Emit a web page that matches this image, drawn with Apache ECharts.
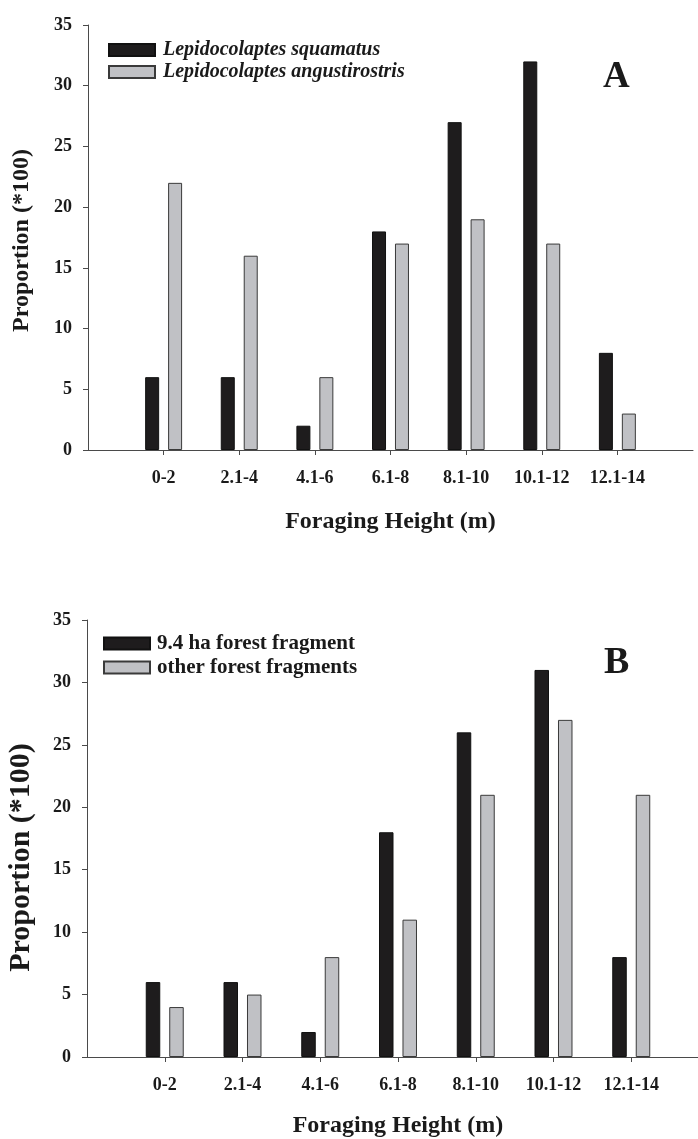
<!DOCTYPE html>
<html><head><meta charset="utf-8">
<script src="https://cdn.jsdelivr.net/npm/echarts@6/dist/echarts.min.js"></script>
<style>html,body{margin:0;padding:0;background:#fff}#c{width:698px;height:1139px}</style>
</head><body><div id="c"></div>
<script>
// ---- data ----
const categories = ['0-2', '2.1-4', '4.1-6', '6.1-8', '8.1-10', '10.1-12', '12.1-14'];
const yTickValues = [0, 5, 10, 15, 20, 25, 30, 35];
const namesA = ['Lepidocolaptes squamatus', 'Lepidocolaptes angustirostris'];
const squamatus = [6, 6, 2, 18, 27, 32, 8];
const angustirostris = [22, 16, 6, 17, 19, 17, 3];
const namesB = ['9.4 ha forest fragment', 'other forest fragments'];
const fragment94 = [6, 6, 2, 18, 26, 31, 8];
const otherFragments = [4, 5, 8, 11, 21, 27, 21];
const xTitle = 'Foraging Height (m)';
const yTitle = 'Proportion (*100)';

// ---- helpers ----
const FONT = '"Liberation Serif", "Times New Roman", serif';
const INK = '#1a1a1a';
const pad = arr => ['-', ...arr, '-'];
const axisCats = ['', ...categories, ''];
const showInner = i => i > 0 && i < axisCats.length - 1;

function xAxis(gridIndex, nameGap) {
  return {
    type: 'category', gridIndex, data: axisCats, boundaryGap: false,
    axisLine: { lineStyle: { color: '#4a4a4a', width: 1 } },
    axisTick: { interval: showInner, length: 5, inside: false, lineStyle: { color: '#4a4a4a' } },
    axisLabel: { interval: 0, margin: 19, fontFamily: FONT, fontWeight: 'bold', fontSize: 18, color: INK },
    name: xTitle, nameLocation: 'middle', nameGap,
    nameTextStyle: { fontFamily: FONT, fontWeight: 'bold', fontSize: 24, color: INK },
    splitLine: { show: false }
  };
}
function yAxis(gridIndex, nameGap, nameSize, namePad) {
  return {
    type: 'value', gridIndex, min: yTickValues[0], max: yTickValues[yTickValues.length - 1],
    interval: yTickValues[1] - yTickValues[0],
    axisLine: { show: true, lineStyle: { color: '#4a4a4a', width: 1 } },
    axisTick: { show: true, length: 5, lineStyle: { color: '#4a4a4a' } },
    axisLabel: { margin: 16, fontFamily: FONT, fontWeight: 'bold', fontSize: 18, color: INK },
    splitLine: { show: false },
    name: yTitle, nameLocation: 'middle', nameRotate: 90, nameGap,
    nameTextStyle: { fontFamily: FONT, fontWeight: 'bold', fontSize: nameSize, color: INK, padding: namePad }
  };
}
const blackStyle = { color: '#1e1c1d', borderColor: '#111', borderWidth: 1 };
const grayStyle = { color: '#c0c1c5', borderColor: '#3a3a3a', borderWidth: 1 };

function legend(names, top, left, italic, size, gap, textPad) {
  return {
    data: names, orient: 'vertical', left, top, icon: 'rect',
    itemWidth: 46, itemHeight: 12, itemGap: gap, selectedMode: false,
    textStyle: { fontFamily: FONT, fontWeight: 'bold', fontStyle: italic ? 'italic' : 'normal',
      fontSize: size, color: INK, padding: [0, 0, 0, textPad] }
  };
}

const option = {
  animation: false,
  backgroundColor: '#fff',
  grid: [
    { left: 88, right: 5, top: 25, height: 425, containLabel: false, outerBoundsMode: 'none' },
    { left: 87, right: -11, top: 620, height: 437, containLabel: false, outerBoundsMode: 'none' }
  ],
  xAxis: [xAxis(0, 60), xAxis(1, 57)],
  yAxis: [yAxis(0, 54, 24, [0, 6, 0, 0]), yAxis(1, 51, 30, [0, 38, 0, 0])],
  legend: [
    legend(namesA, 35, 103, true, 20, 2, 3),
    legend(namesB, 628, 98, false, 21, 3, 2)
  ],
  series: [
    { type: 'bar', name: namesA[0], xAxisIndex: 0, yAxisIndex: 0, data: pad(squamatus), barWidth: 14, barGap: '64%', itemStyle: blackStyle },
    { type: 'bar', name: namesA[1], xAxisIndex: 0, yAxisIndex: 0, data: pad(angustirostris), barWidth: 14, barGap: '64%', itemStyle: grayStyle },
    { type: 'bar', name: namesB[0], xAxisIndex: 1, yAxisIndex: 1, data: pad(fragment94), barWidth: 14.5, barGap: '62%', itemStyle: blackStyle },
    { type: 'bar', name: namesB[1], xAxisIndex: 1, yAxisIndex: 1, data: pad(otherFragments), barWidth: 14.5, barGap: '62%', itemStyle: grayStyle }
  ],
  graphic: [
    { type: 'text', left: 603, top: 59, style: { text: 'A', font: 'bold 37px ' + FONT, fill: INK } },
    { type: 'text', left: 604, top: 644, style: { text: 'B', font: 'bold 38px ' + FONT, fill: INK } }
  ]
};
const chart = echarts.init(document.getElementById('c'), null, { renderer: 'canvas' });
chart.setOption(option);
</script></body></html>
